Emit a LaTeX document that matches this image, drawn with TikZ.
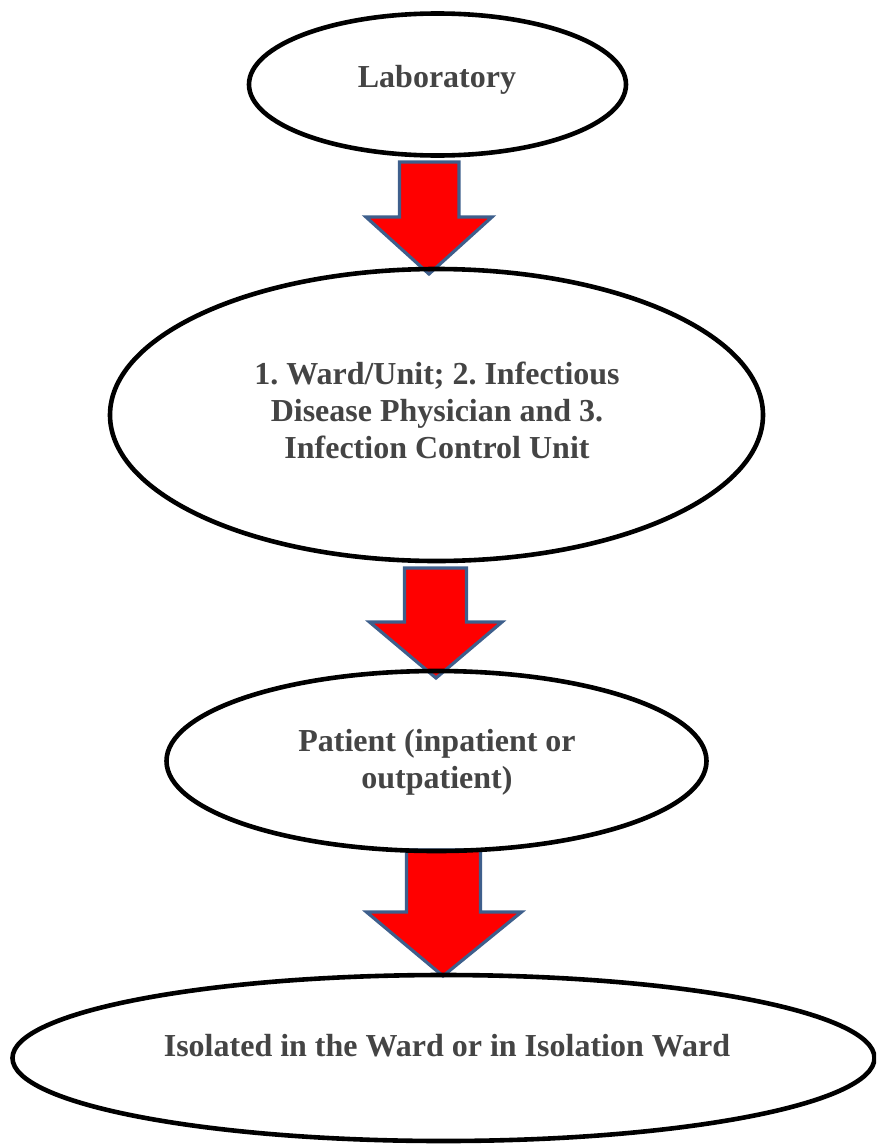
\documentclass[tikz,border=0pt]{standalone}
\usepackage{fontspec}
\setmainfont{Liberation Serif}
\usetikzlibrary{shapes.geometric}
\definecolor{textgray}{HTML}{444444}
\definecolor{arrowedge}{HTML}{3E5F8C}
\frenchspacing
\begin{document}
\begin{tikzpicture}[x=1pt,y=-1pt,
  oval/.style={draw=black,line width=4.6pt,ellipse,inner sep=0pt},
  txt/.style={text=textgray,font=\fontsize{32}{37}\selectfont\bfseries,align=center,inner sep=0pt},
  blockarrow/.style={draw=arrowedge,fill=red,line width=3.2pt,line join=miter}]
\useasboundingbox (0,0) rectangle (876,1146);
\clip (0,0) rectangle (876,1146);

% block arrows between the stages
\draw[blockarrow] (399.5,162) -- (459,162) -- (459,217) -- (492,217) -- (429,274)
  -- (366,217) -- (399.5,217) -- cycle;
\draw[blockarrow] (404.5,568) -- (466.5,568) -- (466.5,622) -- (502,622) -- (436,678)
  -- (369.5,622) -- (404.5,622) -- cycle;
\draw[blockarrow] (406.5,850) -- (480.5,850) -- (480.5,912) -- (521.5,912) -- (443,976)
  -- (366.5,912) -- (406.5,912) -- cycle;

% stages
\node[oval,minimum width=377pt,minimum height=142pt] (lab) at (437.5,84.5) {};
\node[txt] (labtxt) at (437,80) {Laboratory};

\node[oval,minimum width=653pt,minimum height=292pt] (units) at (436.5,415) {};
\node[txt] (unitstxt) at (437,410) {1. Ward/Unit; 2. Infectious\\Disease Physician and 3.\\Infection Control Unit};

\node[oval,minimum width=540pt,minimum height=180pt] (pat) at (436.5,761) {};
\node[txt] (pattxt) at (437,762) {Patient (inpatient or\\outpatient)};

\node[oval,minimum width=862pt,minimum height=166pt] (iso) at (443.5,1058) {};
\node[txt] (isotxt) at (447,1046) {Isolated in the Ward or in Isolation Ward};
\end{tikzpicture}
\end{document}
